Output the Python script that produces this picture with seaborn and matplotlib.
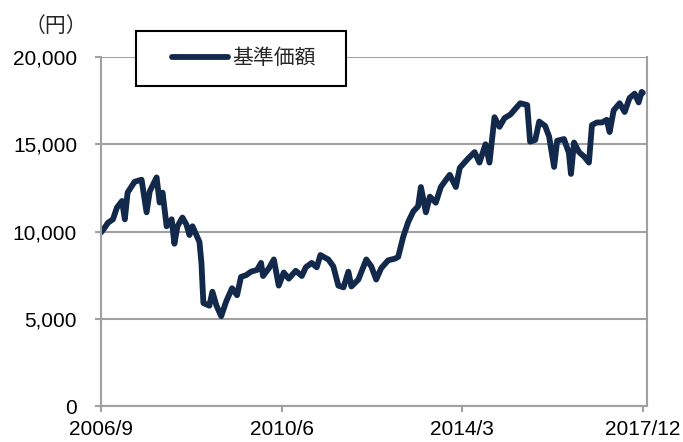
import pandas as pd
import matplotlib
matplotlib.use('Agg')
import matplotlib.pyplot as plt
from matplotlib.patches import Rectangle
import seaborn as sns

# === DATOS ===
fechas = [
    '2006-09-01', '2006-10-01', '2006-10-23', '2006-11-30', '2006-12-30', '2007-02-07',
    '2007-02-28', '2007-03-21', '2007-05-13', '2007-07-05', '2007-08-12', '2007-09-05',
    '2007-10-27', '2007-11-19', '2007-12-11', '2008-01-11', '2008-02-18', '2008-03-10',
    '2008-04-02', '2008-05-10', '2008-06-09', '2008-07-02', '2008-07-25', '2008-09-16',
    '2008-10-01', '2008-10-09', '2008-10-16', '2008-11-30', '2008-12-23', '2009-01-23',
    '2009-02-28', '2009-04-07', '2009-05-21', '2009-06-28', '2009-07-28', '2009-09-05',
    '2009-10-12', '2009-11-27', '2009-12-27', '2010-01-11', '2010-02-25', '2010-04-03',
    '2010-05-10', '2010-06-17', '2010-07-25', '2010-09-16', '2010-11-01', '2010-12-01',
    '2011-01-15', '2011-02-22', '2011-03-22', '2011-05-21', '2011-06-28', '2011-08-05',
    '2011-09-13', '2011-10-20', '2011-11-12', '2012-01-04', '2012-03-04', '2012-04-11',
    '2012-05-18', '2012-06-25', '2012-08-17', '2012-10-09', '2012-11-01', '2012-12-09',
    '2013-01-16', '2013-02-23', '2013-04-01', '2013-04-22', '2013-05-30', '2013-06-29',
    '2013-08-13', '2013-09-20', '2013-10-28', '2013-11-27', '2014-01-12', '2014-02-11',
    '2014-04-11', '2014-06-03', '2014-07-10', '2014-08-25', '2014-09-24', '2014-11-01',
    '2014-12-09', '2015-01-16', '2015-03-01', '2015-04-22', '2015-05-15', '2015-07-07',
    '2015-07-29', '2015-09-06', '2015-10-06', '2015-11-20', '2015-12-20', '2016-01-27',
    '2016-02-19', '2016-04-11', '2016-05-18', '2016-06-03', '2016-06-26', '2016-08-03',
    '2016-09-10', '2016-10-17', '2016-11-09', '2016-12-16', '2017-01-24', '2017-03-01',
    '2017-03-23', '2017-04-23', '2017-06-07', '2017-07-15', '2017-08-21', '2017-09-29',
    '2017-10-29', '2017-11-21', '2017-11-30',
]
valores = [
    9950, 10250, 10500, 10700, 11370, 11750,
    10700, 12230, 12850, 12970, 11100, 12300,
    13100, 11660, 12230, 10300, 10700, 9300,
    10300, 10800, 10400, 9800, 10300, 9400,
    8200, 6900, 5900, 5750, 6550, 5750,
    5150, 6000, 6750, 6350, 7400, 7500,
    7700, 7800, 8200, 7450, 7900, 8400,
    6900, 7650, 7300, 7750, 7450, 7950,
    8200, 7950, 8650, 8400, 8000, 6900,
    6800, 7700, 6850, 7250, 8400, 8000,
    7250, 7900, 8350, 8450, 8550, 9700,
    10550, 11150, 11450, 12550, 11100, 12000,
    11650, 12550, 12950, 13250, 12550, 13650,
    14150, 14550, 13950, 15000, 13950, 16550,
    16000, 16500, 16700, 17150, 17350, 17250,
    15150, 15250, 16300, 16050, 15450, 13700,
    15200, 15300, 14500, 13300, 15100, 14550,
    14300, 13950, 16100, 16250, 16250, 16400,
    15700, 16950, 17350, 16850, 17650, 17900,
    17400, 18000, 17950,
]
serie = '基準価額'

fechas_ticks = ['2006-09-01', '2010-06-01', '2014-03-01', '2017-12-01']
etiquetas_x = ['2006/9', '2010/6', '2014/3', '2017/12']
valores_y = [0, 5000, 10000, 15000, 20000]
etiquetas_y = ['0', '5,000', '10,000', '15,000', '20,000']

df = pd.DataFrame({'fecha': pd.to_datetime(fechas), 'valor': valores, 'serie': serie})

# === ESTILO ===
sns.set_theme(style='white')
plt.rcParams['font.family'] = ['Liberation Sans', 'Noto Sans CJK JP']
gris = '#a0a0a0'
azul = '#13294b'

fig = plt.figure(figsize=(6.83, 4.42), dpi=100)
ax = fig.add_axes([0.148, 0.0814, 0.7994, 0.7896])

sns.lineplot(data=df, x='fecha', y='valor', hue='serie', palette=[azul],
             linewidth=4.2, ax=ax, legend=True)

ax.set_xlim(pd.Timestamp('2006-09-01'), pd.Timestamp('2018-01-01'))
ax.set_ylim(0, 20000)
ax.set_xticks(pd.to_datetime(fechas_ticks))
ax.set_xticklabels(etiquetas_x, fontsize=15, color='black')
ax.set_yticks(valores_y)
ax.set_yticklabels(etiquetas_y, fontsize=15, color='black')
ax.set_xlabel('')
ax.set_ylabel('')

ax.yaxis.grid(True, color=gris, linewidth=1.5)
ax.set_axisbelow(True)
for lado in ['left', 'bottom', 'right']:
    ax.spines[lado].set_visible(True)
    ax.spines[lado].set_color(gris)
    ax.spines[lado].set_linewidth(1.5)
ax.spines['top'].set_visible(False)
ax.tick_params(axis='both', which='both', direction='out', length=4.3, width=1.5,
               color=gris, bottom=True, left=True)
ax.tick_params(axis='y', pad=13)
ax.tick_params(axis='x', pad=6)

# Unidad arriba a la izquierda
fig.text(0.036, 0.941, '（円）', fontsize=15, ha='left', va='center',
         family=['Noto Sans CJK JP', 'DejaVu Sans'])

# Marco de la leyenda (rectángulo blanco con borde negro)
fig.patches.append(Rectangle((136 / 683, 1 - 86 / 442), 210 / 683, 55 / 442,
                             transform=fig.transFigure, facecolor='white',
                             edgecolor='black', linewidth=1.5, zorder=5))

handles, labels = ax.get_legend_handles_labels()
ax.get_legend().remove()
leg = fig.legend(handles, labels, loc='center left', bbox_to_anchor=(172 / 683, 1 - 58.5 / 442),
                 bbox_transform=fig.transFigure, frameon=False,
                 fontsize=15, handlelength=2.7, handletextpad=0.2, borderpad=0,
                 borderaxespad=0)
leg.set_zorder(6)
for t in leg.get_texts():
    t.set_family(['Noto Sans CJK JP', 'DejaVu Sans'])
for l in leg.get_lines():
    l.set_linewidth(4.2)

fig.savefig('out.png', dpi=100)
